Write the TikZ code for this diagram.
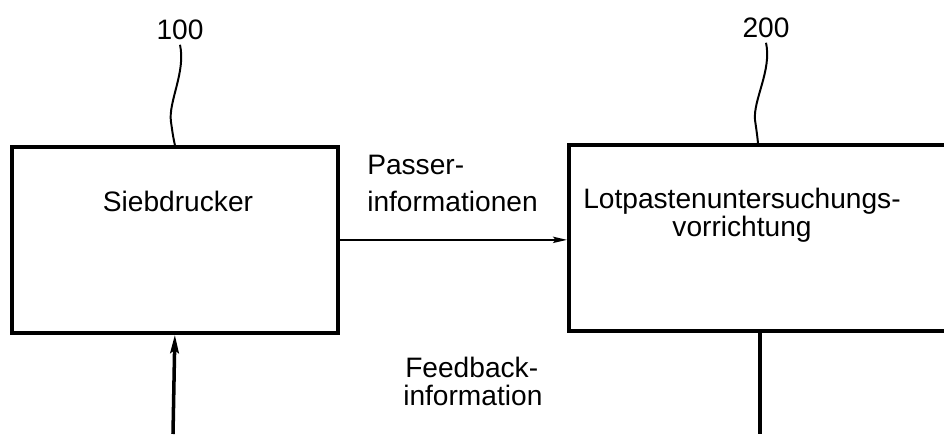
\documentclass[tikz,border=0pt]{standalone}
\usepackage{fontspec}
\setmainfont{Liberation Sans}
\usetikzlibrary{arrows.meta}

\begin{document}
\begin{tikzpicture}[x=0.025cm,y=0.025cm,
  box/.style={draw,line width=2.6pt,anchor=north west,minimum height=4.65cm,inner sep=0pt},
  txt/.style={inner sep=0pt,font=\fontsize{20}{24}\selectfont},
  flow/.style={line width=1.4pt,-{Stealth[length=10pt,width=4.5pt,inset=2pt]}},
  feed/.style={line width=2.5pt,-{Stealth[length=13pt,width=6pt,inset=2pt]}},
  leader/.style={line width=1.4pt}]
\useasboundingbox (0,0) rectangle (944,434);
\clip (0,0) rectangle (944,434);
\node[box,minimum width=8.15cm] (sieb) at (10,289) {};
\node[box,minimum width=10.3cm] (lot) at (567,291) {};
\node[txt,anchor=base] (siebtxt) at (178,222) {Siebdrucker};
\node[txt,anchor=base] (lot1) at (742,225) {Lotpastenuntersuchungs-};
\node[txt,anchor=base] (lot2) at (742,197) {vorrichtung};
\node[txt,anchor=base west] (pass1) at (367,259) {Passer-};
\node[txt,anchor=base west] (pass2) at (367,222) {informationen};
\node[txt,anchor=base west] (feed1) at (405,57) {Feedback-};
\node[txt,anchor=base west] (feed2) at (403,29) {information};
\node[txt,anchor=base,inner sep=3pt] (n100) at (180,394) {100};
\node[txt,anchor=base,inner sep=3pt] (n200) at (766,396) {200};
\coordinate (lottop) at (758,291);
\coordinate (fbsrc) at (760,0);
\coordinate (fbdst) at (173,0);
\draw[leader] (n100.south) .. controls (186,362) and (168,332) .. (171,312) .. controls (173,298) .. (sieb.north);
\draw[leader] (n200.south) .. controls (772,364) and (753,334) .. (755,314) .. controls (757,300) .. (lottop);
\draw[flow] (sieb.east) -- (sieb.east -| lot.west);
\draw[feed] (fbdst) -- (sieb.south);
\draw[line width=2.3pt] (fbsrc |- lot.south) -- (fbsrc);
\end{tikzpicture}
\end{document}
